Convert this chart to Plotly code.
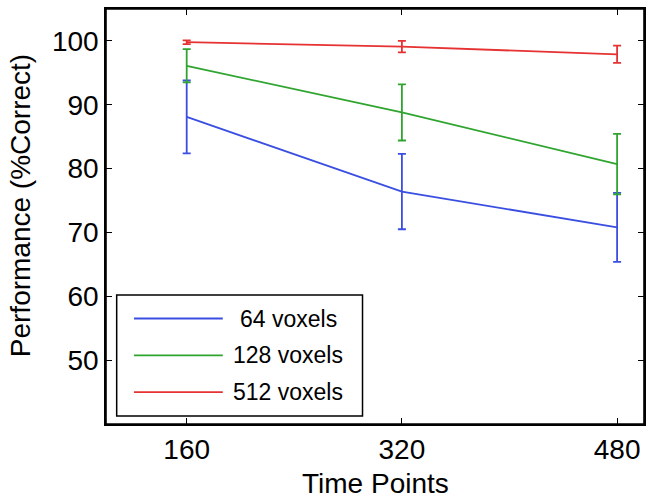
import plotly.graph_objects as go

time_points = [160, 320, 480]
series_names = ["64 voxels", "128 voxels", "512 voxels"]
perf_64 = [88.1, 76.4, 70.8]
err_64 = [5.7, 5.9, 5.4]
perf_128 = [96.1, 88.8, 80.7]
err_128 = [2.6, 4.4, 4.75]
perf_512 = [99.8, 99.1, 97.9]
err_512 = [0.3, 0.9, 1.35]
y_ticks = [50, 60, 70, 80, 90, 100]

colors = ["#3a4fe2", "#2fa52f", "#e63232"]
values = [perf_64, perf_128, perf_512]
errors = [err_64, err_128, err_512]

FONT = "Liberation Sans, Arial, sans-serif"

fig = go.Figure()
for name, v, e, c in zip(series_names, values, errors, colors):
    fig.add_trace(go.Scatter(
        x=time_points, y=v, mode="lines", name=name,
        line=dict(color=c, width=1.8),
        error_y=dict(type="data", array=e, visible=True, color=c,
                     thickness=1.8, width=4),
        showlegend=False,
    ))

L, R, T, B = 106, 8, 7, 78
W, H = 653, 502
pw, ph = W - L - R, H - T - B

def px(xp):
    return (xp - L) / pw

def py(yp):
    return (H - B - yp) / ph

shapes = [
    dict(type="rect", xref="paper", yref="paper", x0=0, x1=1, y0=0, y1=1,
         line=dict(color="black", width=1.6), layer="above"),
    dict(type="rect", xref="paper", yref="paper",
         x0=px(116.7), x1=px(363), y0=py(416), y1=py(294.3),
         line=dict(color="black", width=1.5), fillcolor="white", layer="above"),
]
annotations = []
row_y = [318, 355, 392]
for name, c, ry in zip(series_names, colors, row_y):
    shapes.append(dict(type="line", xref="paper", yref="paper",
                       x0=px(134), x1=px(223), y0=py(ry), y1=py(ry),
                       line=dict(color=c, width=1.8), layer="above"))
    annotations.append(dict(text=name, xref="paper", yref="paper",
                            x=px(288.5), y=py(ry), xanchor="center", yanchor="middle",
                            showarrow=False, font=dict(family=FONT, size=23, color="black")))

annotations.append(dict(text="Time Points", xref="paper", yref="paper",
                        x=0.5, y=py(484), xanchor="center", yanchor="middle",
                        showarrow=False, font=dict(family=FONT, size=28, color="black")))
annotations.append(dict(text="Performance (%Correct)", xref="paper", yref="paper",
                        x=px(20), y=py(205), xanchor="center", yanchor="middle",
                        textangle=-90,
                        showarrow=False, font=dict(family=FONT, size=28, color="black")))

fig.update_layout(
    width=W, height=H,
    margin=dict(l=L, r=R, t=T, b=B, pad=0),
    paper_bgcolor="white", plot_bgcolor="white",
    font=dict(family=FONT, size=28, color="black"),
    shapes=shapes, annotations=annotations,
    xaxis=dict(range=[100, 500], tickvals=time_points, ticks="inside", ticklen=6,
               tickwidth=1.3, tickcolor="black", showline=True, linecolor="black",
               linewidth=1.6, mirror="ticks", showgrid=False, zeroline=False,
               tickfont=dict(family=FONT, size=28, color="black")),
    yaxis=dict(range=[40, 105], tickvals=y_ticks, ticks="inside", ticklen=6,
               tickwidth=1.3, tickcolor="black", showline=True, linecolor="black",
               linewidth=1.6, mirror="ticks", showgrid=False, zeroline=False,
               tickfont=dict(family=FONT, size=28, color="black")),
)

fig.write_html("out.html", config={"displayModeBar": False},
               post_script="document.body.style.margin='0';document.body.style.overflow='hidden';")
